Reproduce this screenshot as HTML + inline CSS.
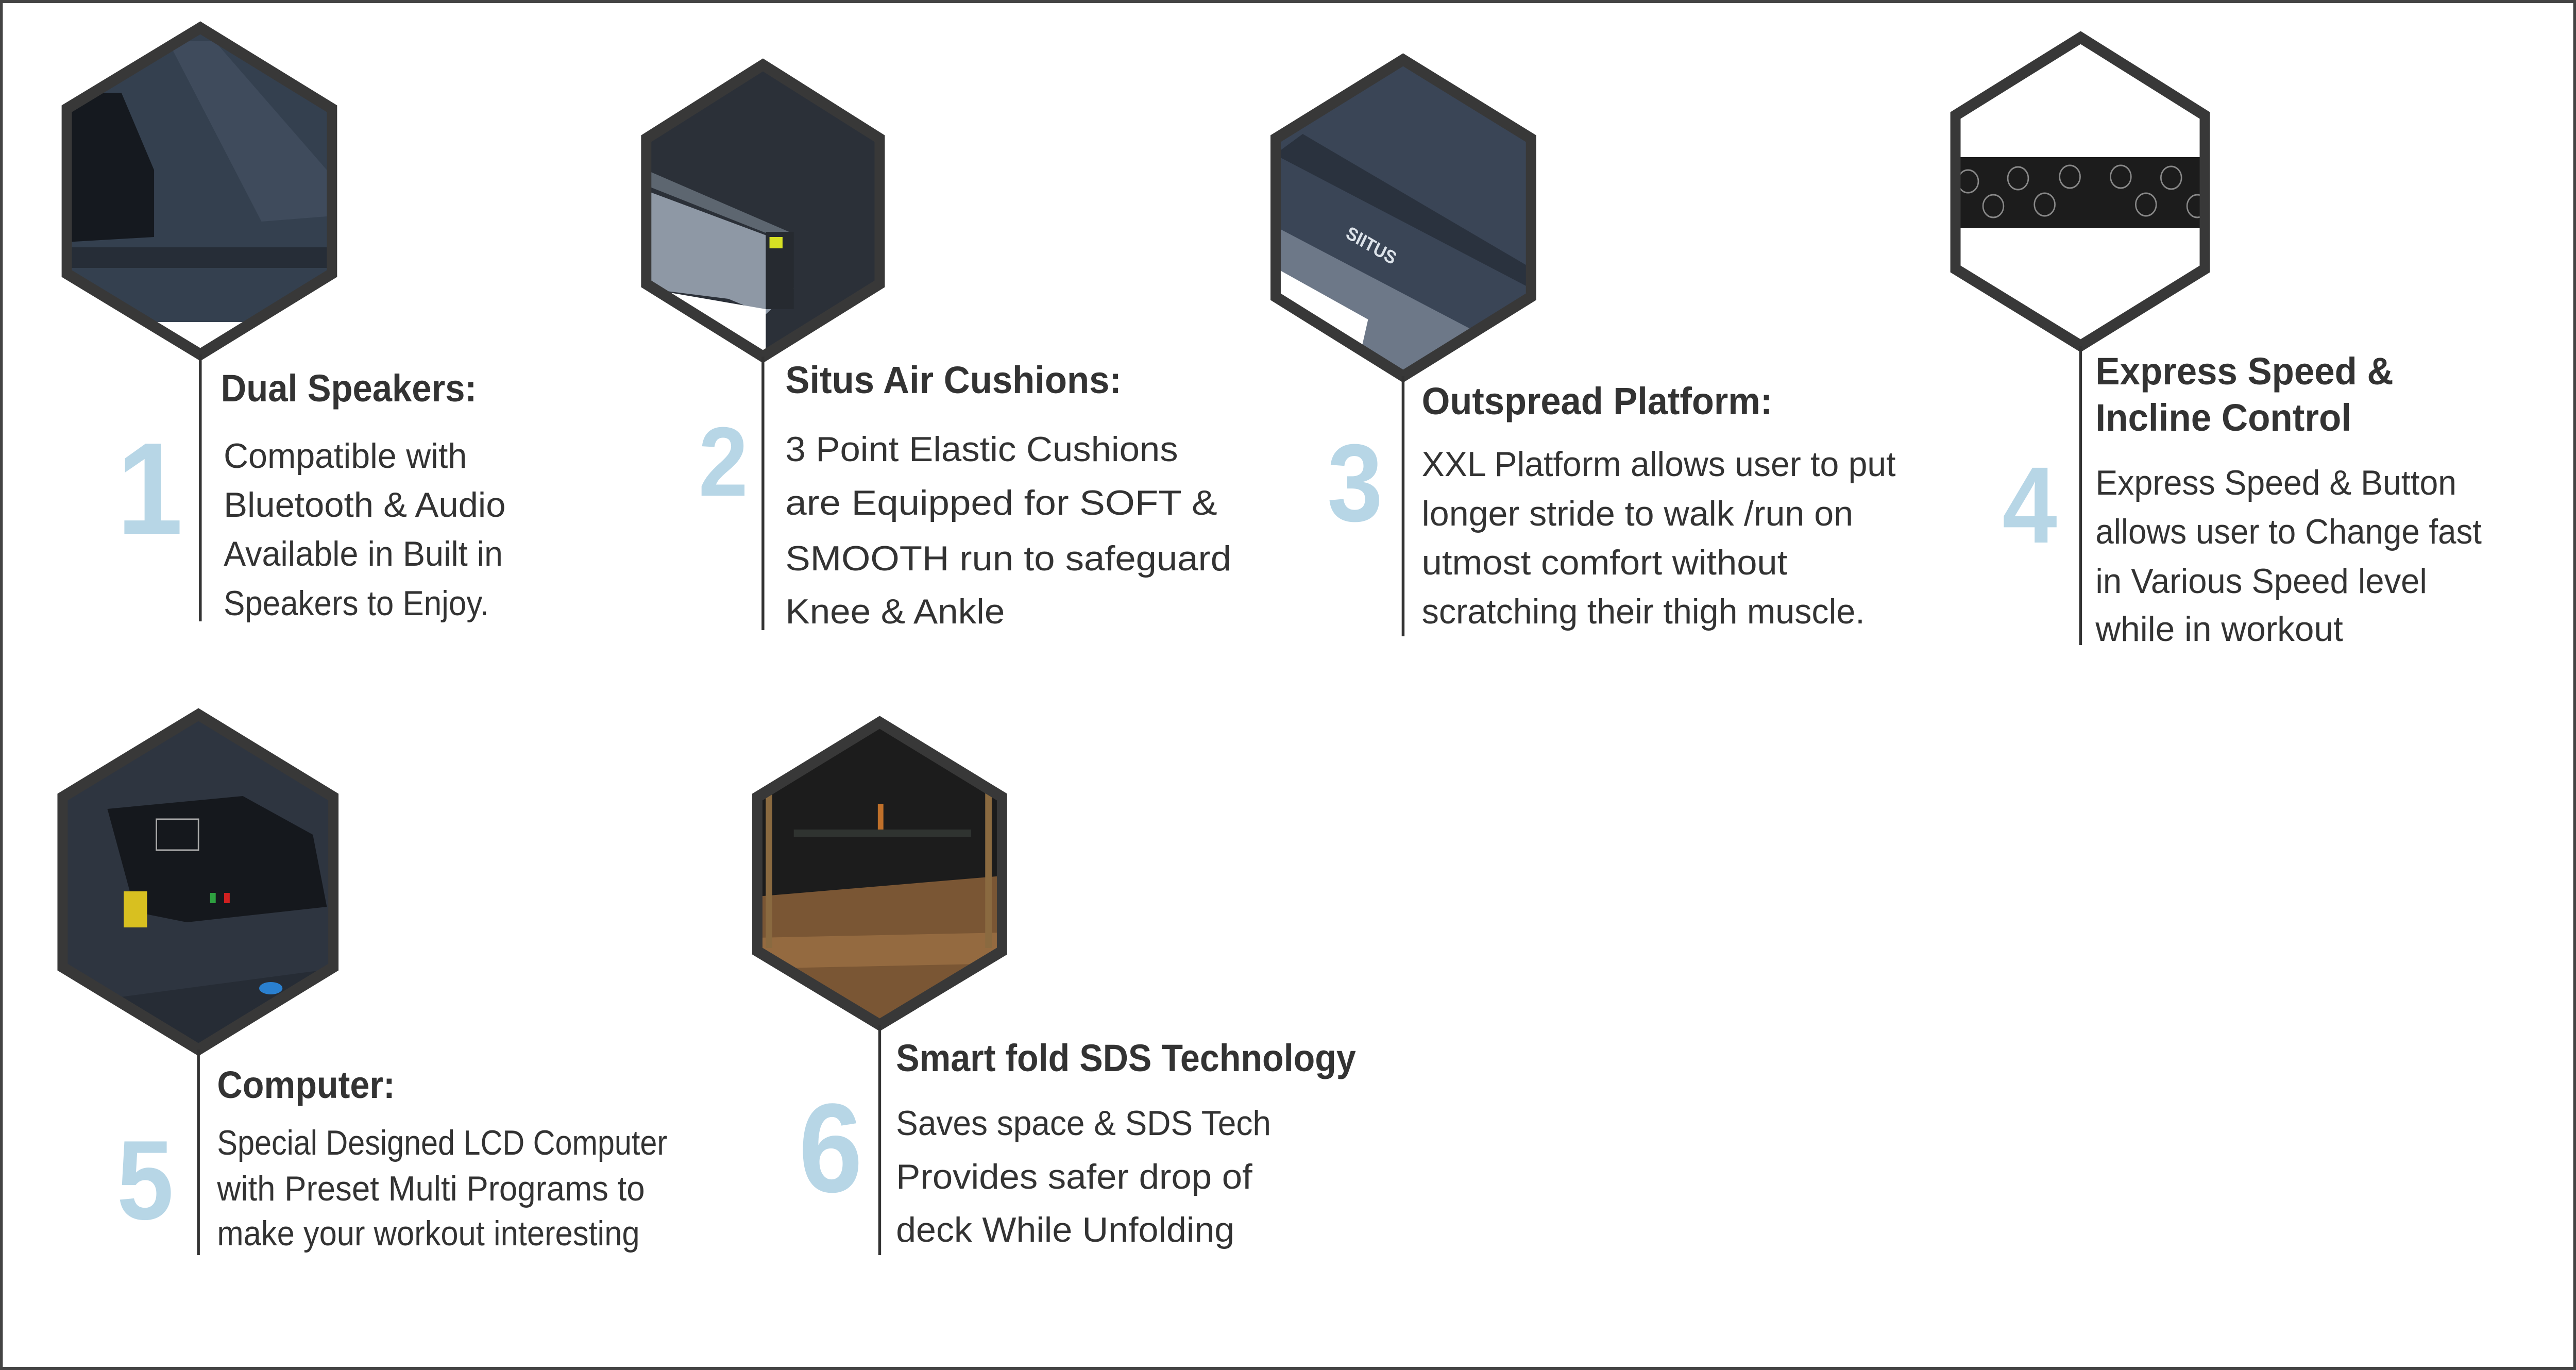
<!DOCTYPE html>
<html><head><meta charset="utf-8"><style>
html,body{margin:0;padding:0;background:#fff;overflow:hidden;width:100vw;height:100vh;}
svg{display:block;width:100vw;height:100vh;}
text{font-family:"Liberation Sans",Arial,sans-serif;fill:#333;}
.t{font-weight:bold;font-size:74px;}
.b{font-size:68px;}
.n{font-weight:bold;fill:#b7d6e6;text-anchor:middle;}
.hx{fill:none;stroke:#383838;stroke-width:22;stroke-linejoin:miter;}
.ln{stroke:#333;stroke-width:6;}
</style></head><body>
<svg viewBox="0 0 5517 2659" preserveAspectRatio="none" xmlns="http://www.w3.org/2000/svg">
<rect x="3" y="3" width="5511" height="2653" fill="#fff" stroke="#444" stroke-width="6"/>
<defs>
<clipPath id="c1"><polygon points="429,54 711,211 711,531 429,688 143,531 143,211"/></clipPath>
<clipPath id="c2"><polygon points="1634,126 1884,269 1884,551 1634,692 1384,551 1384,269"/></clipPath>
<clipPath id="c3"><polygon points="3005,116 3279,269 3279,576 3005,730 2732,576 2732,269"/></clipPath>
<clipPath id="c4"><polygon points="4456,73 4722,224 4722,522 4456,671 4188,522 4188,224"/></clipPath>
<clipPath id="c5"><polygon points="425,1387 714,1547 714,1877 425,2037 134,1877 134,1547"/></clipPath>
<clipPath id="c6"><polygon points="1884,1402 2146,1547 2146,1846 1884,1989 1622,1846 1622,1547"/></clipPath>
</defs>

<g clip-path="url(#c1)">
<rect x="140" y="50" width="580" height="650" fill="#34404f"/>
<polygon points="140,180 260,180 330,330 330,460 140,470" fill="#15191f"/>
<polygon points="360,80 460,80 700,330 700,420 560,430" fill="#3f4b5c"/>
<rect x="140" y="480" width="580" height="40" fill="#262d37"/>
<rect x="140" y="625" width="580" height="80" fill="#fff"/>
</g>
<polygon class="hx" points="429,54 711,211 711,531 429,688 143,531 143,211"/>
<line class="ln" x1="429" y1="688" x2="429" y2="1206"/>

<g clip-path="url(#c2)">
<rect x="1380" y="120" width="510" height="580" fill="#2b3038"/>
<polygon points="1384,370 1680,470 1700,560 1640,610 1560,580 1384,560" fill="#8e98a5"/>
<polygon points="1384,330 1690,450 1690,470 1384,360" fill="#5d6670"/>
<rect x="1640" y="450" width="60" height="150" fill="#262a30"/>
<rect x="1648" y="460" width="28" height="22" fill="#d7e024"/>
<polygon points="1384,560 1640,600 1640,700 1384,700" fill="#fff"/>
</g>
<polygon class="hx" points="1634,126 1884,269 1884,551 1634,692 1384,551 1384,269"/>
<line class="ln" x1="1634" y1="692" x2="1634" y2="1223"/>

<g clip-path="url(#c3)">
<rect x="2730" y="110" width="560" height="630" fill="#3a4556"/>
<polygon points="2730,300 2790,260 3279,520 3279,560" fill="#2a323e"/>
<polygon points="2732,440 3279,700 3279,740 2732,740" fill="#6d7888"/>
<polygon points="2732,520 2930,620 2900,740 2732,740" fill="#fff"/>
<text x="2880" y="460" font-size="36" font-weight="bold" style="fill:#dde3ea" transform="rotate(28 2880 460)">SIITUS</text>
</g>
<polygon class="hx" points="3005,116 3279,269 3279,576 3005,730 2732,576 2732,269"/>
<line class="ln" x1="3005" y1="730" x2="3005" y2="1235"/>

<g clip-path="url(#c4)">
<rect x="4180" y="70" width="550" height="610" fill="#fff"/>
<rect x="4180" y="305" width="550" height="138" fill="#1c1c1c"/>
<g fill="none" stroke="#888" stroke-width="3">
<circle cx="4215" cy="352" r="22"/><circle cx="4322" cy="346" r="22"/><circle cx="4433" cy="343" r="22"/><circle cx="4542" cy="343" r="22"/><circle cx="4650" cy="345" r="22"/>
<circle cx="4269" cy="400" r="22"/><circle cx="4379" cy="397" r="22"/><circle cx="4596" cy="397" r="22"/><circle cx="4706" cy="400" r="22"/>
</g>
</g>
<polygon class="hx" points="4456,73 4722,224 4722,522 4456,671 4188,522 4188,224"/>
<line class="ln" x1="4456" y1="671" x2="4456" y2="1252"/>

<g clip-path="url(#c5)">
<rect x="130" y="1380" width="590" height="660" fill="#2e3540"/>
<polygon points="230,1570 520,1545 670,1620 700,1760 400,1790 290,1770" fill="#15181d"/>
<rect x="335" y="1590" width="90" height="60" fill="none" stroke="#aaa" stroke-width="3"/>
<rect x="450" y="1733" width="12" height="20" fill="#2ea040"/><rect x="480" y="1733" width="12" height="20" fill="#d02020"/>
<rect x="265" y="1730" width="50" height="70" fill="#d8c020"/>
<polygon points="134,1950 714,1880 714,2040 134,2040" fill="#262c35"/>
<ellipse cx="580" cy="1918" rx="25" ry="12" fill="#2a80d0"/>
</g>
<polygon class="hx" points="425,1387 714,1547 714,1877 425,2037 134,1877 134,1547"/>
<line class="ln" x1="425" y1="2037" x2="425" y2="2436"/>

<g clip-path="url(#c6)">
<rect x="1620" y="1400" width="530" height="600" fill="#1c1c1c"/>
<polygon points="1622,1740 2146,1700 2146,2000 1622,2000" fill="#7a5634"/>
<polygon points="1622,1820 2146,1810 2146,1870 1622,1880" fill="#946a40"/>
<rect x="1640" y="1540" width="14" height="300" fill="#8a6a40"/>
<rect x="2110" y="1540" width="14" height="300" fill="#8a6a40"/>
<rect x="1880" y="1560" width="12" height="60" fill="#c0702a"/>
<rect x="1700" y="1610" width="380" height="14" fill="#2f3330"/>
</g>
<polygon class="hx" points="1884,1402 2146,1547 2146,1846 1884,1989 1622,1846 1622,1547"/>
<line class="ln" x1="1884" y1="1989" x2="1884" y2="2436"/>

<text class="n" x="321" y="1036" font-size="254">1</text>
<text class="n" x="1549" y="962" font-size="191">2</text>
<text class="n" x="2902" y="1011" font-size="214">3</text>
<text class="n" x="4347" y="1053" font-size="211">4</text>
<text class="n" x="311" y="2366" font-size="219">5</text>
<text class="n" x="1779" y="2313" font-size="246">6</text>

<text class="t" x="473" y="779" textLength="548" lengthAdjust="spacingAndGlyphs">Dual Speakers:</text>
<text class="b" x="479" y="908" textLength="521" lengthAdjust="spacingAndGlyphs">Compatible with</text>
<text class="b" x="479" y="1003" textLength="604" lengthAdjust="spacingAndGlyphs">Bluetooth  &amp; Audio</text>
<text class="b" x="479" y="1098" textLength="598" lengthAdjust="spacingAndGlyphs">Available in Built in</text>
<text class="b" x="479" y="1194" textLength="568" lengthAdjust="spacingAndGlyphs">Speakers to Enjoy.</text>

<text class="t" x="1682" y="763" textLength="720" lengthAdjust="spacingAndGlyphs">Situs Air Cushions:</text>
<text class="b" x="1682" y="895" font-size="74" textLength="841" lengthAdjust="spacingAndGlyphs">3 Point Elastic Cushions</text>
<text class="b" x="1682" y="999" font-size="74" textLength="925" lengthAdjust="spacingAndGlyphs">are Equipped  for  SOFT &amp;</text>
<text class="b" x="1682" y="1107" font-size="74" textLength="955" lengthAdjust="spacingAndGlyphs">SMOOTH  run to safeguard</text>
<text class="b" x="1682" y="1210" font-size="74" textLength="470" lengthAdjust="spacingAndGlyphs">Knee &amp; Ankle</text>

<text class="t" x="3045" y="804" textLength="751" lengthAdjust="spacingAndGlyphs">Outspread Platform:</text>
<text class="b" x="3045" y="924" textLength="1015" lengthAdjust="spacingAndGlyphs">XXL  Platform allows user to put</text>
<text class="b" x="3045" y="1020" textLength="924" lengthAdjust="spacingAndGlyphs">longer stride  to walk /run on</text>
<text class="b" x="3045" y="1115" textLength="783" lengthAdjust="spacingAndGlyphs">utmost comfort  without</text>
<text class="b" x="3045" y="1210" textLength="949" lengthAdjust="spacingAndGlyphs">scratching their  thigh muscle.</text>

<text class="t" x="4488" y="746" textLength="638" lengthAdjust="spacingAndGlyphs">Express Speed &amp;</text>
<text class="t" x="4488" y="836" textLength="548" lengthAdjust="spacingAndGlyphs">Incline Control</text>
<text class="b" x="4488" y="960" textLength="773" lengthAdjust="spacingAndGlyphs">Express  Speed &amp; Button</text>
<text class="b" x="4488" y="1055" textLength="827" lengthAdjust="spacingAndGlyphs">allows user to Change fast</text>
<text class="b" x="4488" y="1151" textLength="710" lengthAdjust="spacingAndGlyphs">in Various  Speed level</text>
<text class="b" x="4488" y="1244" textLength="530" lengthAdjust="spacingAndGlyphs">while in workout</text>

<text class="t" x="465" y="2131" textLength="381" lengthAdjust="spacingAndGlyphs">Computer:</text>
<text class="b" x="465" y="2241" font-size="64" textLength="964" lengthAdjust="spacingAndGlyphs">Special  Designed LCD Computer</text>
<text class="b" x="465" y="2330" font-size="64" textLength="916" lengthAdjust="spacingAndGlyphs">with Preset  Multi Programs  to</text>
<text class="b" x="465" y="2417" font-size="64" textLength="905" lengthAdjust="spacingAndGlyphs">make your workout interesting</text>

<text class="t" x="1919" y="2079" textLength="985" lengthAdjust="spacingAndGlyphs">Smart fold SDS Technology</text>
<text class="b" x="1919" y="2203" textLength="803" lengthAdjust="spacingAndGlyphs">Saves space &amp; SDS Tech</text>
<text class="b" x="1919" y="2307" textLength="763" lengthAdjust="spacingAndGlyphs">Provides safer  drop of</text>
<text class="b" x="1919" y="2410" textLength="725" lengthAdjust="spacingAndGlyphs">deck While Unfolding</text>
</svg>
</body></html>
